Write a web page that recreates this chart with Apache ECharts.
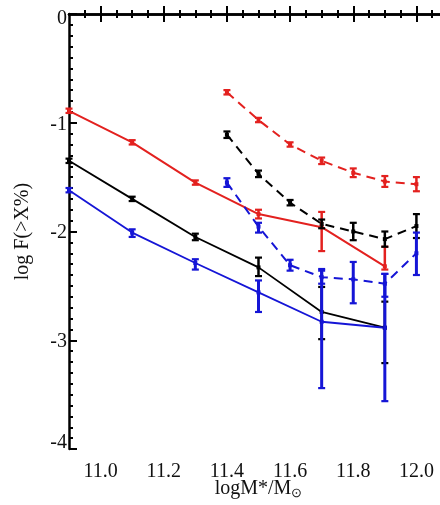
<!DOCTYPE html>
<html>
<head>
<meta charset="utf-8">
<script src="https://cdn.jsdelivr.net/npm/echarts@6/dist/echarts.min.js"></script>
<style>html,body{margin:0;padding:0;background:#fff;}#c{width:440px;height:505px;}</style>
</head>
<body>
<div id="c"></div>
<script>
// ---- data ----
const xSolid = [10.9, 11.1, 11.3, 11.5, 11.7, 11.9];
const xDashed = [11.4, 11.5, 11.6, 11.7, 11.8, 11.9, 12.0];

const redSolidY    = [-0.89, -1.18, -1.55, -1.84, -1.96, -2.32];
const redSolidLow  = [-0.91, -1.20, -1.57, -1.88, -2.18, -2.35];
const redSolidHigh = [-0.87, -1.16, -1.53, -1.80, -1.82, -2.14];

const blackSolidY    = [-1.35, -1.70, -2.05, -2.33, -2.74, -2.885];
const blackSolidLow  = [-1.37, -1.72, -2.08, -2.41, -2.99, -3.21];
const blackSolidHigh = [-1.33, -1.68, -2.02, -2.24, -2.51, -2.645];

const blueSolidY    = [-1.62, -2.01, -2.29, -2.56, -2.83, -2.885];
const blueSolidLow  = [-1.64, -2.05, -2.35, -2.74, -3.44, -3.56];
const blueSolidHigh = [-1.60, -1.98, -2.255, -2.45, -2.345, -2.39];

const redDashedY    = [-0.72, -0.975, -1.20, -1.35, -1.46, -1.54, -1.565];
const redDashedLow  = [-0.74, -0.995, -1.22, -1.38, -1.50, -1.59, -1.63];
const redDashedHigh = [-0.70, -0.955, -1.18, -1.32, -1.42, -1.49, -1.50];

const blackDashedY    = [-1.11, -1.47, -1.735, -1.93, -2.00, -2.07, -1.95];
const blackDashedLow  = [-1.14, -1.50, -1.76, -1.97, -2.08, -2.14, -2.06];
const blackDashedHigh = [-1.08, -1.44, -1.71, -1.89, -1.92, -2.00, -1.84];

const blueDashedY    = [-1.55, -1.955, -2.31, -2.42, -2.44, -2.48, -2.20];
const blueDashedLow  = [-1.59, -2.01, -2.36, -2.48, -2.66, -2.60, -2.40];
const blueDashedHigh = [-1.51, -1.92, -2.26, -2.36, -2.28, -2.39, -2.01];

const xMajorTicks = [11.0, 11.2, 11.4, 11.6, 11.8, 12.0];
const xMinorTicks = [10.95, 11.05, 11.1, 11.15, 11.25, 11.3, 11.35, 11.45, 11.5, 11.55, 11.65, 11.7, 11.75, 11.85, 11.9, 11.95, 12.05];

// ---- styles ----
const RED = '#e3211f', BLACK = '#000000', BLUE = '#1515d6';
const FONT = 'Liberation Serif';
const FS = 20;

function lineSeries(xs, ys, color, dashed, width) {
  return {
    type: 'line',
    data: xs.map((x, i) => [x, ys[i]]),
    symbol: 'rect', symbolSize: 4,
    itemStyle: { color: color },
    lineStyle: { color: color, width: width, type: dashed ? [9, 6] : 'solid' },
    silent: true, animation: false, z: 3
  };
}
function errSeries(xs, lows, highs, color, width) {
  return {
    type: 'custom',
    data: xs.map((x, i) => [x, lows[i], highs[i]]),
    renderItem: function (params, api) {
      const x = api.value(0);
      const p1 = api.coord([x, api.value(1)]);
      const p2 = api.coord([x, api.value(2)]);
      const cw = 3.5;
      const st = { stroke: color, lineWidth: width };
      return {
        type: 'group',
        children: [
          { type: 'line', shape: { x1: p1[0], y1: p1[1], x2: p2[0], y2: p2[1] }, style: st },
          { type: 'line', shape: { x1: p1[0] - cw, y1: p1[1], x2: p1[0] + cw, y2: p1[1] }, style: { stroke: color, lineWidth: 2.2 } },
          { type: 'line', shape: { x1: p2[0] - cw, y1: p2[1], x2: p2[0] + cw, y2: p2[1] }, style: { stroke: color, lineWidth: 2.2 } }
        ]
      };
    },
    silent: true, animation: false, z: 4
  };
}

const XMIN = 10.9, XMAX = 12.1;
const axisLineStyle = { show: true, lineStyle: { color: '#000', width: 2.5 } };

const option = {
  backgroundColor: '#fff',
  animation: false,
  grid: { left: 69, right: -8, top: 14, bottom: 56, containLabel: false, outerBoundsMode: 'none' },
  xAxis: [
    {
      type: 'value', position: 'bottom', min: XMIN, max: XMAX,
      axisLine: axisLineStyle,
      axisTick: { show: true, inside: true, length: 8, lineStyle: { width: 2, color: '#000' }, customValues: xMajorTicks },
      axisLabel: { show: true, customValues: xMajorTicks, formatter: v => Number(v).toFixed(1), color: '#111', fontFamily: FONT, fontSize: FS, margin: 13 },
      splitLine: { show: false },
      name: '{a|logM*/M}{b|⊙}', nameLocation: 'middle', nameGap: 29, nameMoveOverlap: false,
      nameTextStyle: { color: '#111', fontFamily: FONT, fontSize: FS, rich: { a: { fontFamily: FONT, fontSize: FS, color: '#111' }, b: { fontFamily: FONT, fontSize: 13, color: '#111', padding: [9, 0, 0, 0] } } }
    },
    {
      type: 'value', position: 'bottom', min: XMIN, max: XMAX,
      axisLine: { show: false },
      axisTick: { show: true, inside: true, length: 4, lineStyle: { width: 2, color: '#000' }, customValues: xMinorTicks },
      axisLabel: { show: false }, splitLine: { show: false }
    },
    {
      type: 'value', position: 'top', min: XMIN, max: XMAX,
      axisLine: axisLineStyle,
      axisTick: { show: true, inside: true, length: 8, lineStyle: { width: 2, color: '#000' }, customValues: xMajorTicks },
      axisLabel: { show: false }, splitLine: { show: false }
    },
    {
      type: 'value', position: 'top', min: XMIN, max: XMAX,
      axisLine: { show: false },
      axisTick: { show: true, inside: true, length: 4, lineStyle: { width: 2, color: '#000' }, customValues: xMinorTicks },
      axisLabel: { show: false }, splitLine: { show: false }
    }
  ],
  yAxis: [
    {
      type: 'value', position: 'left', min: -4, max: 0, interval: 1,
      axisLine: axisLineStyle,
      axisTick: { show: true, inside: true, length: 8, lineStyle: { width: 2, color: '#000' } },
      minorTick: { show: true, splitNumber: 10, length: 4, lineStyle: { width: 2, color: '#000' } },
      axisLabel: {
        show: true, color: '#111', fontFamily: FONT, fontSize: FS, margin: 2,
        formatter: function (v) {
          if (v === 0) return '{t|0}';
          if (v === -4) return '{b|-4}';
          return '{m|' + v + '}';
        },
        rich: {
          t: { fontFamily: FONT, fontSize: FS, color: '#111', padding: [10, 0, 0, 0] },
          b: { fontFamily: FONT, fontSize: FS, color: '#111', padding: [0, 0, 12, 0] },
          m: { fontFamily: FONT, fontSize: FS, color: '#111', padding: [3, 0, 0, 0] }
        }
      },
      splitLine: { show: false },
      name: 'log F(>X%)', nameLocation: 'middle', nameGap: 36, nameRotate: 90, nameMoveOverlap: false,
      nameTextStyle: { color: '#111', fontFamily: FONT, fontSize: FS }
    },
    {
      type: 'value', position: 'right', min: -4, max: 0, interval: 1,
      axisLine: axisLineStyle,
      axisTick: { show: true, inside: true, length: 8, lineStyle: { width: 2, color: '#000' } },
      minorTick: { show: true, splitNumber: 10, length: 4, lineStyle: { width: 2, color: '#000' } },
      axisLabel: { show: false }, splitLine: { show: false }
    }
  ],
  series: [
    lineSeries(xSolid, redSolidY, RED, false, 2),
    errSeries(xSolid, redSolidLow, redSolidHigh, RED, 2.5),
    lineSeries(xSolid, blackSolidY, BLACK, false, 1.8),
    errSeries(xSolid, blackSolidLow, blackSolidHigh, BLACK, 2.5),
    lineSeries(xSolid, blueSolidY, BLUE, false, 1.8),
    errSeries(xSolid, blueSolidLow, blueSolidHigh, BLUE, 3),
    lineSeries(xDashed, redDashedY, RED, true, 2),
    errSeries(xDashed, redDashedLow, redDashedHigh, RED, 2.5),
    lineSeries(xDashed, blackDashedY, BLACK, true, 2),
    errSeries(xDashed, blackDashedLow, blackDashedHigh, BLACK, 2.5),
    lineSeries(xDashed, blueDashedY, BLUE, true, 2),
    errSeries(xDashed, blueDashedLow, blueDashedHigh, BLUE, 3)
  ]
};

const chart = echarts.init(document.getElementById('c'), null, { renderer: 'canvas' });
chart.setOption(option);
</script>
</body>
</html>
